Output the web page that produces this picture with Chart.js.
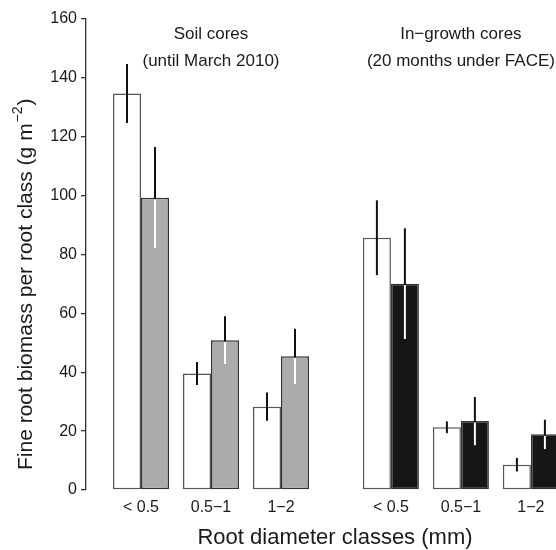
<!DOCTYPE html>
<html>
<head>
<meta charset="utf-8">
<script src="https://cdn.jsdelivr.net/npm/chart.js@4/dist/chart.umd.min.js"></script>
<style>
  body { margin: 0; background: #fff; }
</style>
</head>
<body>
<canvas id="myChart" width="556" height="550"></canvas>
<script>
// root diameter classes, repeated in each core group
var rootClasses = ['< 0.5', '0.5\u22121', '1\u22122'];
var coreTypes = ['Soil cores', 'In\u2212growth cores'];
var coreNotes = ['(until March 2010)', '(20 months under FACE)'];
var xTitle = 'Root diameter classes (mm)';

// soil cores first (3 classes), then in-growth cores (3 classes)
var ambientMeans   = [134.7, 39.6, 28.3, 85.7, 21.3, 8.6];
var ambientErrors  = [10, 3.9, 4.8, 12.7, 2, 2.3];
var elevatedMeans  = [99.3, 50.9, 45.4, 70.1, 23.4, 18.9];
var elevatedErrors = [17.2, 8.1, 9.4, 18.8, 8.2, 5];

var yMax = 160;
var yStep = 20;

// layout: gap between the two core groups, in class widths
var groupGap = 3.57;
function slot(i) {
    return Math.floor(i / rootClasses.length) * groupGap + i % rootClasses.length;
}

Chart.defaults.font.family = '"Liberation Sans", Arial, Helvetica, sans-serif';
Chart.defaults.color = '#1a1a1a';

var errorBars = {
    id: 'errorBars',
    afterDatasetsDraw: function (chart) {
        var ctx = chart.ctx;
        var y = chart.scales.y;
        var area = chart.chartArea;
        ctx.save();
        ctx.beginPath();
        ctx.rect(area.left, 0, chart.width - area.left, chart.height);
        ctx.clip();
        ctx.lineWidth = 2;
        chart.data.datasets.forEach(function (ds, d) {
            chart.getDatasetMeta(d).data.forEach(function (bar, i) {
                var m = ds.data[i].y;
                var e = ds.errors[i];
                ctx.strokeStyle = '#111';
                ctx.beginPath();
                ctx.moveTo(bar.x, y.getPixelForValue(m + e));
                ctx.lineTo(bar.x, y.getPixelForValue(m - e));
                ctx.stroke();
                if (ds.whiteInside) {
                    ctx.strokeStyle = '#fff';
                    ctx.beginPath();
                    ctx.moveTo(bar.x, y.getPixelForValue(m) + 1.5);
                    ctx.lineTo(bar.x, y.getPixelForValue(m - e));
                    ctx.stroke();
                }
            });
        });
        ctx.restore();
    }
};

var textLabels = {
    id: 'textLabels',
    afterDraw: function (chart) {
        var ctx = chart.ctx;
        var x = chart.scales.x;
        var fam = Chart.defaults.font.family;
        ctx.save();
        ctx.fillStyle = '#1a1a1a';

        // group headings
        ctx.font = '17px ' + fam;
        ctx.textAlign = 'center';
        ctx.textBaseline = 'alphabetic';
        coreTypes.forEach(function (name, g) {
            var cx = x.getPixelForValue(g * groupGap + 1);
            ctx.fillText(name, cx, 39);
            ctx.fillText(coreNotes[g], cx, 66);
        });

        // x title, centred on the full plot region of the original figure
        ctx.font = '22px ' + fam;
        ctx.textBaseline = 'middle';
        ctx.fillText(xTitle, 335, 538);

        // y title with superscript
        ctx.textBaseline = 'alphabetic';
        ctx.translate(32, 470);
        ctx.rotate(-Math.PI / 2);
        ctx.textAlign = 'left';
        var main = 'Fine root biomass per root class (g m';
        ctx.font = '21px ' + fam;
        ctx.fillText(main, 0, 0);
        var w = ctx.measureText(main).width;
        ctx.font = '14px ' + fam;
        ctx.fillText('\u22122', w + 1, -10);
        var w2 = ctx.measureText('\u22122').width;
        ctx.font = '21px ' + fam;
        ctx.fillText(')', w + w2 + 2, 0);
        ctx.restore();
    }
};

var ctx = document.getElementById('myChart').getContext('2d');

var graphData = {
    type: 'bar',
    data: {
        datasets: [
            {
                label: 'ambient',
                data: ambientMeans.map(function (v, i) { return {x: slot(i), y: v}; }),
                errors: ambientErrors,
                backgroundColor: '#ffffff',
                borderColor: '#555',
                borderWidth: 1.5,
                borderSkipped: false
            },
            {
                label: 'elevated',
                data: elevatedMeans.map(function (v, i) { return {x: slot(i), y: v}; }),
                errors: elevatedErrors,
                whiteInside: true,
                backgroundColor: elevatedMeans.map(function (v, i) {
                    return i < rootClasses.length ? '#ababab' : '#161616';
                }),
                borderColor: '#333',
                borderWidth: 1.5,
                borderSkipped: false
            }
        ]
    },
    options: {
        responsive: false,
        animation: false,
        layout: {
            padding: {top: 19, right: 0, bottom: 0, left: 0}
        },
        categoryPercentage: 0.8,
        barPercentage: 1.0,
        plugins: {
            legend: {display: false},
            tooltip: {enabled: false}
        },
        scales: {
            x: {
                type: 'linear',
                offset: false,
                min: -55 / 70,
                max: -55 / 70 + 470 / 70,
                grid: {display: false, drawTicks: false},
                border: {display: false},
                afterBuildTicks: function (scale) {
                    scale.ticks = ambientMeans.map(function (v, i) { return {value: slot(i)}; });
                },
                afterFit: function (scale) { scale.height = 60; },
                ticks: {
                    autoSkip: false,
                    maxRotation: 0,
                    padding: 8,
                    font: {size: 16},
                    color: '#1a1a1a',
                    callback: function (value, index) {
                        return rootClasses[index % rootClasses.length];
                    }
                }
            },
            y: {
                min: 0,
                max: yMax,
                afterFit: function (scale) { scale.width = 86; },
                ticks: {
                    stepSize: yStep,
                    padding: 4,
                    font: {size: 16},
                    color: '#1a1a1a'
                },
                grid: {
                    drawOnChartArea: false,
                    drawTicks: true,
                    tickLength: 5,
                    color: '#333',
                    lineWidth: 1.3
                },
                border: {display: true, color: '#333', width: 1.3}
            }
        }
    },
    plugins: [errorBars, textLabels]
};

var myChart = new Chart(ctx, graphData);
</script>
</body>
</html>
